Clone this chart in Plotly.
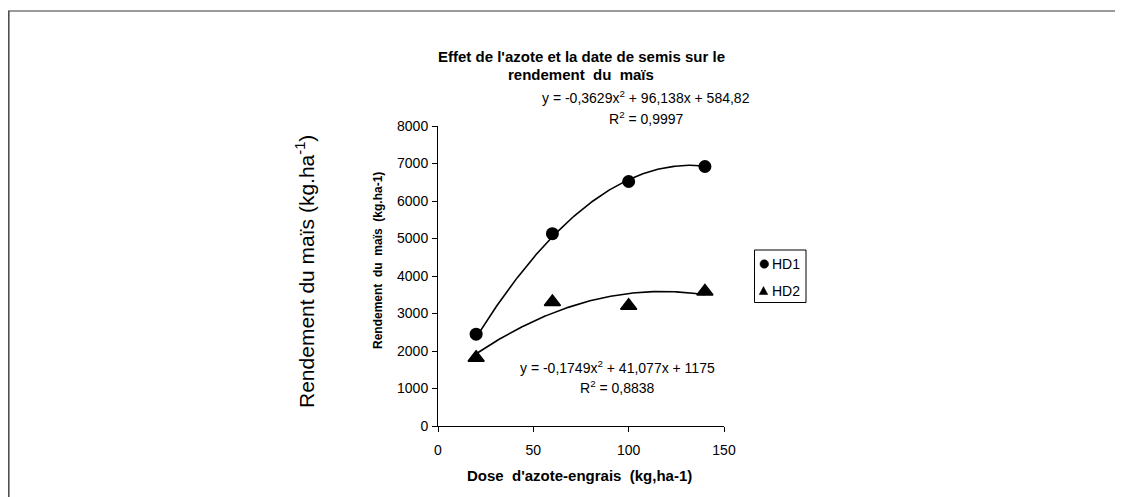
import numpy as np
import plotly.graph_objects as go

# Data
dose = [20, 60, 100, 140]
hd1 = [2450, 5130, 6520, 6920]
hd2 = [1820, 3310, 3210, 3590]
series_names = ["HD1", "HD2"]
# Polynomial trendline coefficients (as printed on chart): a*x^2 + b*x + c
coef_hd1 = [-0.3629, 96.138, 584.82]
coef_hd2 = [-0.1749, 41.077, 1175]
eq_hd1 = ["y = -0,3629x<sup>2</sup> + 96,138x + 584,82", "R<sup>2</sup> = 0,9997"]
eq_hd2 = ["y = -0,1749x<sup>2</sup> + 41,077x + 1175", "R<sup>2</sup> = 0,8838"]
x_ticks = [0, 50, 100, 150]
y_ticks = [0, 1000, 2000, 3000, 4000, 5000, 6000, 7000, 8000]

FONT = "Liberation Sans, Arial, sans-serif"
OFF = 8  # page body margin
W, H = 1115, 489
L, R, T, B = 430, 399, 118, 71
PW, PH = W - L - R, H - T - B

def px(xp):  # page pixel -> paper
    return (xp - OFF - L) / PW

def py(yp):
    return (H - B - (yp - OFF)) / PH

xs = np.linspace(min(dose), max(dose), 200)
fig = go.Figure()
for coef in (coef_hd1, coef_hd2):
    fig.add_trace(go.Scatter(x=xs, y=np.polyval(coef, xs), mode="lines",
                             line=dict(color="black", width=1.6), showlegend=False,
                             hoverinfo="skip"))
fig.add_trace(go.Scatter(x=dose, y=hd1, mode="markers", name=series_names[0], showlegend=False,
                         marker=dict(symbol="circle", size=13, color="black")))
fig.add_trace(go.Scatter(x=dose, y=hd2, mode="markers", name=series_names[1], showlegend=False,
                         marker=dict(symbol="triangle-up", size=14, color="black",
                                     line=dict(color="black", width=1.5))))

ann = []
def txt(x, y, s, size=14, bold=False, angle=0, anchor="center"):
    ann.append(dict(x=px(x), y=py(y), xref="paper", yref="paper", text=("<b>%s</b>" % s) if bold else s,
                    showarrow=False, xanchor=anchor, yanchor="middle", textangle=angle,
                    font=dict(family=FONT, size=size, color="black")))

txt(581, 56.7, "Effet de l'azote et la date de semis sur le", 15, True)
txt(581, 74.3, "rendement  du  maïs", 15, True)
txt(646, 96.7, eq_hd1[0])
txt(646, 118.3, eq_hd1[1])
txt(617.5, 367.3, eq_hd2[0])
txt(617.5, 386.7, eq_hd2[1])
txt(579, 475, "Dose  d'azote-engrais  (kg,ha-1)", 15, True)
txt(378, 261, "Rendement  du  maïs  (kg.ha-1)", 12, True, -90)
txt(305, 272, "Rendement du maïs (kg.ha<sup>-1</sup>)", 21, False, -90)

# Legend (box, symbols, labels)
txt(770, 264, series_names[0], 14, anchor="left")
txt(770, 290.5, series_names[1], 14, anchor="left")

def tri(cx, cy, w, h):
    x0, x1, xm = px(cx - w / 2), px(cx + w / 2), px(cx)
    yb, yt = py(cy + h / 2), py(cy - h / 2)
    return "M %f %f L %f %f L %f %f Z" % (x0, yb, x1, yb, xm, yt)

shapes = [
    dict(type="line", xref="paper", yref="paper", x0=px(8), x1=px(1130), y0=py(11), y1=py(11),
         line=dict(color="#9a9a9a", width=2)),
    dict(type="line", xref="paper", yref="paper", x0=px(8.8), x1=px(8.8), y0=py(11), y1=py(505),
         line=dict(color="#505050", width=1.6)),
    dict(type="rect", xref="paper", yref="paper", x0=px(754.5), x1=px(806), y0=py(250), y1=py(302.5),
         line=dict(color="black", width=1), fillcolor="white", layer="below"),
    dict(type="circle", xref="paper", yref="paper", x0=px(760), x1=px(768.6), y0=py(259.7), y1=py(268.3),
         line=dict(color="black", width=0.5), fillcolor="black"),
    dict(type="path", xref="paper", yref="paper", path=tri(763.5, 290.5, 8.5, 8),
         line=dict(color="black", width=0.5), fillcolor="black"),
]

fig.update_layout(
    width=W, height=H, margin=dict(l=L, r=R, t=T, b=B, autoexpand=False),
    paper_bgcolor="white", plot_bgcolor="white",
    font=dict(family=FONT, size=14, color="black"),
    annotations=ann, shapes=shapes, showlegend=False,
    xaxis=dict(range=[0, 150], tickvals=x_ticks, showgrid=False, zeroline=False,
               showline=True, linecolor="black", linewidth=1, ticks="outside",
               ticklen=5, tickcolor="black", ticklabelstandoff=6),
    yaxis=dict(range=[0, 8000], tickvals=y_ticks, showgrid=False, zeroline=False,
               showline=True, linecolor="black", linewidth=1, ticks="outside",
               ticklen=5, tickcolor="black", ticklabelstandoff=1),
)
fig.write_html("out.html")
